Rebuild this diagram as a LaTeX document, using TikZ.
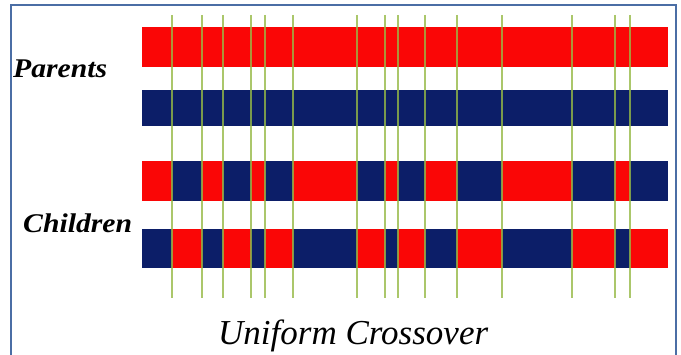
\documentclass[tikz,border=0pt]{standalone}
\usepackage{fontspec}
\setmainfont{Liberation Serif}
\usetikzlibrary{positioning}
\definecolor{clrR}{RGB}{250,6,6}
\definecolor{clrB}{RGB}{12,30,104}
\definecolor{clrGn}{RGB}{150,185,70}
\definecolor{clrF}{RGB}{75,110,165}
\tikzset{
  cutline/.style={clrGn,line width=1.3pt,opacity=0.8},
  lbl/.style={anchor=base west,inner sep=0pt,font=\fontsize{27}{31}\selectfont\bfseries\itshape},
  ttl/.style={anchor=base west,inner sep=0pt,font=\fontsize{35}{40}\selectfont\itshape}
}
\begin{document}
\begin{tikzpicture}[x=1pt,y=-1pt]
  \useasboundingbox (0,0) rectangle (681,355);
  \draw[clrF,line width=1.2pt] (11,356) -- (11,5) -- (676,5) -- (676,356);

  % parents
  \fill[clrR] (142,27) rectangle (668,67);
  \fill[clrB] (142,90) rectangle (668,126);

  % children: genes swapped at every cut
  \foreach \xa/\xb [count=\i] in {142/172,172/202,202/223,223/251,251/265,265/293,
      293/357,357/385,385/398,398/425,425/457,457/502,502/572,572/615,615/630,630/668}{
    \ifodd\i \def\ca{clrR}\def\cb{clrB}\else \def\ca{clrB}\def\cb{clrR}\fi
    \fill[\ca] (\xa,161) rectangle (\xb,201);
    \fill[\cb] (\xa,229) rectangle (\xb,268);
  }

  % cut lines
  \foreach \x in {172,202,223,251,265,293,357,385,398,425,457,502,572,615,630}{
    \draw[cutline] (\x,15) -- (\x,298);
  }

  \node[lbl] (par) at (13,78) {\scalebox{1.1}[1]{Parents}};
  \node[lbl] (chi) at (23,233) {\scalebox{1.1}[1]{Children}};
  \node[ttl] (ttl) at (218,345) {Uniform Crossover};
\end{tikzpicture}
\end{document}
